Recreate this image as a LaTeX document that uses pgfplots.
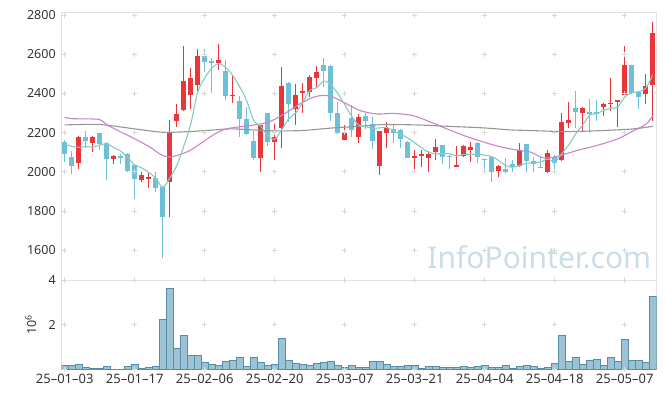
\documentclass[border=0pt]{standalone}
\usepackage{fontspec}
\setmainfont{Noto Sans}
\usepackage{graphicx}
\usepackage{pgfplots}
\pgfplotsset{compat=1.18}
\usepackage{pgfplotstable}
\definecolor{upc}{RGB}{232,54,58}
\definecolor{dnc}{RGB}{108,192,216}
\definecolor{maA}{RGB}{134,204,190}
\definecolor{maB}{RGB}{200,134,200}
\definecolor{maC}{RGB}{150,150,150}
\definecolor{volf}{RGB}{156,194,211}
\definecolor{vole}{RGB}{84,142,170}
\definecolor{framec}{RGB}{224,224,224}
\definecolor{gridc}{RGB}{216,216,216}
\definecolor{wm}{RGB}{203,221,231}
\definecolor{lbl}{RGB}{51,51,51}

\pgfplotstableread{
i o h l c
2 2047 2182 2015 2180
4 2146 2185 2100 2175
7 2063 2088 2041 2083
11 1956 1998 1947 1983
12 1963 1993 1917 1971
15 1947 2264 1769 2200
16 2261 2346 2227 2297
17 2315 2642 2310 2464
18 2390 2530 2320 2480
19 2442 2625 2414 2592
22 2553 2651 2520 2571
24 2385 2490 2351 2393
28 2070 2241 1998 2241
30 2151 2244 2061 2176
31 2222 2536 2122 2439
33 2319 2447 2239 2392
34 2400 2451 2302 2414
35 2405 2495 2380 2485
36 2476 2539 2434 2510
40 2163 2241 2161 2200
42 2176 2295 2147 2281
45 2029 2210 1985 2210
46 2197 2253 2122 2224
50 2070 2112 1998 2083
51 2083 2112 2024 2093
52 2070 2107 1998 2090
53 2100 2169 2061 2124
56 2024 2132 2022 2037
57 2080 2137 2075 2132
58 2110 2151 2049 2124
62 2003 2034 1973 2032
65 2029 2149 2027 2112
69 1998 2112 1996 2098
71 2058 2300 2056 2256
72 2248 2358 2222 2266
74 2302 2332 2205 2327
77 2329 2349 2286 2347
78 2344 2478 2312 2353
79 2356 2368 2227 2366
80 2392 2642 2390 2544
83 2397 2498 2346 2437
84 2442 2766 2261 2707
}\upt

\pgfplotstableread{
i o h l c
0 2154 2160 2049 2090
1 2073 2105 1990 2029
3 2180 2210 2120 2156
5 2197 2199 2112 2142
6 2147 2150 1959 2063
8 2083 2091 2041 2069
9 2092 2095 2000 2002
10 2037 2040 1863 1963
13 1968 1998 1897 1919
14 1920 1922 1558 1769
20 2592 2629 2507 2558
21 2563 2583 2402 2553
23 2512 2569 2368 2385
25 2363 2385 2180 2268
26 2271 2329 2190 2193
27 2159 2210 2061 2070
29 2300 2302 2130 2151
32 2454 2456 2253 2344
37 2546 2580 2434 2512
38 2541 2543 2261 2298
39 2298 2354 2195 2197
41 2273 2342 2180 2214
43 2286 2298 2219 2258
44 2244 2278 2117 2156
47 2220 2244 2146 2197
48 2214 2219 2122 2166
49 2154 2156 2068 2070
54 2137 2139 2041 2075
55 2081 2088 2015 2078
59 2149 2151 2046 2075
60 2063 2066 1998 2059
61 2075 2077 1947 1998
63 2015 2071 1996 1998
64 2041 2058 1998 2027
66 2142 2144 1998 2053
67 2054 2078 1998 2041
68 2027 2075 2017 2019
70 2075 2085 1998 2044
73 2324 2410 2222 2303
75 2307 2371 2197 2295
76 2307 2368 2261 2295
81 2544 2546 2397 2403
82 2408 2410 2320 2380
}\dnt

\pgfplotstableread{
i v
0 0.18
1 0.18
2 0.22
3 0.09
4 0.05
5 0.05
6 0.13
7 0.01
8 0.01
9 0.13
10 0.22
11 0.05
12 0.09
13 0.13
14 2.24
15 3.63
16 0.94
17 1.52
18 0.63
19 0.63
20 0.31
21 0.22
22 0.18
23 0.36
24 0.40
25 0.54
26 0.13
27 0.54
28 0.31
29 0.18
30 0.22
31 1.39
32 0.40
33 0.27
34 0.22
35 0.18
36 0.27
37 0.31
38 0.36
39 0.18
40 0.09
41 0.18
42 0.09
43 0.09
44 0.36
45 0.36
46 0.22
47 0.13
48 0.13
49 0.18
50 0.18
51 0.05
52 0.13
53 0.13
54 0.09
55 0.09
56 0.09
57 0.13
58 0.09
59 0.13
60 0.18
61 0.09
62 0.09
63 0.18
64 0.05
65 0.13
66 0.18
67 0.13
68 0.05
69 0.09
70 0.27
71 1.52
72 0.36
73 0.54
74 0.22
75 0.40
76 0.45
77 0.18
78 0.54
79 0.36
80 1.34
81 0.40
82 0.40
83 0.31
84 3.27
}\volt

\pgfplotsset{
  base/.style={
    scale only axis, width=595pt,
    xmin=-0.43, xmax=84.57,
    axis line style={framec, line width=0.8pt},
    major tick length=0pt, tick style={draw=none},
    xtick={0,10,...,80},
    tick label style={font=\fontsize{12.5}{14}\selectfont, text=lbl},
    /pgf/number format/assume math mode=true,
    /pgf/number format/1000 sep={},
  },
  cross/.style={only marks, mark=+, mark size=2.6pt, gridc, line width=0.6pt, forget plot},
  candle/.style 2 args={draw=none, mark=none, forget plot,
    error bars/y dir=plus, error bars/y explicit, error bars/error mark=none,
    error bars/error bar style={draw=#1, line width=#2}},
}

\begin{document}
\begin{tikzpicture}
\useasboundingbox (0,0) rectangle (665pt,398pt);

\begin{axis}[base, at={(61.7pt,118pt)}, anchor=south west,
  height=267.3pt, ymin=1448, ymax=2811.7,
  ytick={1600,1800,...,2800}, xticklabels={},
  yticklabel style={xshift=-2.5pt}]
\node[font=\fontsize{30}{30}\selectfont, text=wm, anchor=center] at (axis cs:67.8,1565) {InfoPointer.com};
\pgfplotsinvokeforeach{1600,1800,...,2800}{
  \addplot[cross] coordinates {(0,#1)(10,#1)(20,#1)(30,#1)(40,#1)(50,#1)(60,#1)(70,#1)(80,#1)};
}
\addplot[candle={upc}{1pt}] table[x=i, y=l, y error plus expr={\thisrow{h}-\thisrow{l}}] {\upt};
\addplot[candle={dnc}{1pt}] table[x=i, y=l, y error plus expr={\thisrow{h}-\thisrow{l}}] {\dnt};
\addplot[candle={upc}{5pt}] table[x=i, y=o, y error plus expr={\thisrow{c}-\thisrow{o}}] {\upt};
\addplot[candle={dnc}{5pt}] table[x=i, y=c, y error plus expr={\thisrow{o}-\thisrow{c}}] {\dnt};

% MA60
\addplot[maC, line width=1.1pt, smooth, mark=none] coordinates {
(0,2239)(5,2241)(10,2219)(13.9,2202)(17.7,2205)(21.5,2214)(24.1,2219)(28.8,2210)(33.6,2210)(38.4,2224)(42.2,2232)(45.5,2241)(50.3,2239)(54.8,2232)(59.8,2224)(63.6,2214)(67,2210)(71.7,2205)(76.5,2210)(81.3,2219)(84,2232)};
% MA20
\addplot[maB, line width=1.1pt, smooth, mark=none] coordinates {
(0,2278)(1,2271)(3,2270)(5,2266)(6.2,2236)(8.1,2202)(10,2168)(12,2130)(13,2105)(14,2083)(15,2075)(16,2083)(17.7,2105)(19.5,2146)(21.3,2190)(23.1,2219)(26.5,2236)(28.4,2247)(29.8,2264)(31.7,2303)(33.6,2346)(35.5,2380)(37,2390)(38.4,2380)(40.3,2346)(42.2,2312)(44.6,2295)(47,2298)(49.8,2286)(52.3,2253)(54.6,2219)(57.4,2180)(59.9,2151)(62.3,2127)(64.8,2110)(66.6,2100)(68.4,2071)(70.3,2078)(73.1,2108)(76,2134)(79,2168)(81.3,2210)(83.1,2244)(84,2286)};
% MA5
\addplot[maA, line width=1.1pt, smooth, mark=none] coordinates {
(0,2142)(1,2129)(2,2125)(3,2129)(4,2126)(5,2136)(6,2143)(7,2124)(8,2106)(9,2072)(10,2036)(11,2020)(12,1998)(13,1968)(14,1921)(15,1968)(16,2031)(17,2130)(18,2242)(19,2407)(20,2478)(21,2529)(22,2551)(23,2532)(24,2492)(25,2434)(26,2362)(27,2262)(28,2233)(29,2185)(30,2166)(31,2215)(32,2270)(33,2300)(34,2353)(35,2415)(36,2429)(37,2463)(38,2444)(39,2400)(40,2343)(41,2284)(42,2238)(43,2230)(44,2222)(45,2224)(46,2226)(47,2209)(48,2191)(49,2173)(50,2148)(51,2122)(52,2100)(53,2092)(54,2093)(55,2092)(56,2081)(57,2089)(58,2089)(59,2089)(60,2085)(61,2078)(62,2058)(63,2032)(64,2023)(65,2033)(66,2044)(67,2046)(68,2050)(69,2065)(70,2051)(71,2092)(72,2137)(73,2193)(74,2239)(75,2289)(76,2297)(77,2313)(78,2323)(79,2331)(80,2381)(81,2403)(82,2409)(83,2426)(84,2494)};
\end{axis}

\begin{axis}[base, at={(61.7pt,28.7pt)}, anchor=south west,
  height=89.3pt, ymin=0, ymax=4, ytick={2,4},
  xticklabels={25--01--03,25--01--17,25--02--06,25--02--20,25--03--07,25--03--21,25--04--04,25--04--18,25--05--07},
  xticklabel style={font=\fontsize{13}{15}\selectfont, yshift=-1pt},
  yticklabel style={xshift=-2.5pt},
  ylabel={10\textsuperscript{6}},
  ylabel style={at={(axis description cs:-0.052,0.5)}, anchor=center, font=\fontsize{12.5}{14}\selectfont, text=lbl}]
\pgfplotsinvokeforeach{0,2,4}{
  \addplot[cross] coordinates {(0,#1)(10,#1)(20,#1)(30,#1)(40,#1)(50,#1)(60,#1)(70,#1)(80,#1)};
}
\addplot[ybar, bar width=1, fill=volf, draw=vole, line width=0.6pt] table[x=i, y=v] {\volt};
\end{axis}
\end{tikzpicture}
\end{document}
